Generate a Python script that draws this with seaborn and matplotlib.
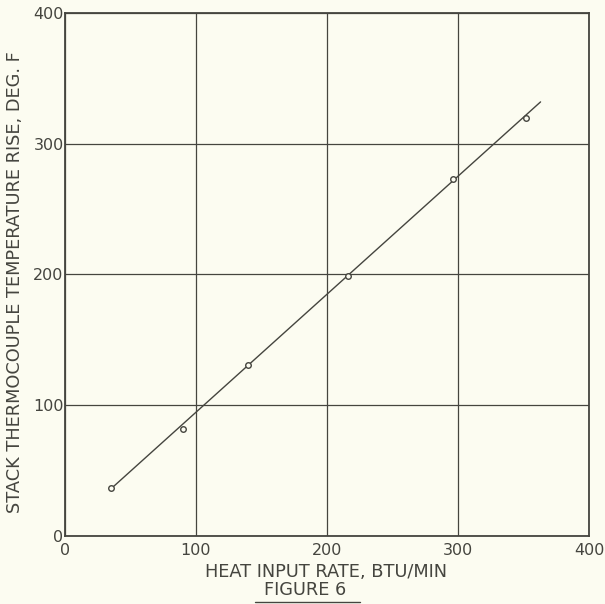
import matplotlib
matplotlib.use("Agg")
import matplotlib.pyplot as plt
import seaborn as sns
import pandas as pd
from matplotlib.lines import Line2D

# Data
heat_input = [35, 90, 140, 216, 296, 352]
temp_rise = [37, 82, 131, 199, 273, 320]
fit_x = [35, 363]
fit_y = [36, 332]
ticks = [0, 100, 200, 300, 400]

bg = "#fcfcf1"
ink = "#45453f"

sns.set_theme(style="white")
plt.rcParams["font.family"] = ["DejaVu Sans"]

fig = plt.figure(figsize=(6.05, 6.04), dpi=100, facecolor=bg)
ax = fig.add_axes([0.1074, 0.1126, 0.8662, 0.8659])
ax.set_facecolor(bg)

pts = pd.DataFrame({"x": heat_input, "y": temp_rise})
fit = pd.DataFrame({"x": fit_x, "y": fit_y})

sns.lineplot(data=fit, x="x", y="y", ax=ax, color=ink, linewidth=1.0, zorder=3)
sns.scatterplot(data=pts, x="x", y="y", ax=ax, marker="o", s=16,
                facecolor=bg, edgecolor=ink, linewidth=1.0, zorder=4)

ax.set_xlim(0, 400)
ax.set_ylim(0, 400)
ax.set_xticks(ticks)
ax.set_yticks(ticks)
ax.set_xticklabels([str(t) for t in ticks])
ax.set_yticklabels([str(t) for t in ticks])
ax.grid(True, color=ink, linewidth=0.9)
ax.set_axisbelow(True)
for s in ax.spines.values():
    s.set_color(ink)
    s.set_linewidth(1.3)
ax.tick_params(axis="both", length=0, labelsize=11.5, colors=ink)
ax.tick_params(axis="x", pad=5)
ax.tick_params(axis="y", pad=1)
ax.set_xlabel("")
ax.set_ylabel("")

fig.text(0.539, 0.053, "HEAT INPUT RATE, BTU/MIN", ha="center", va="center",
         fontsize=12.8, color=ink)
fig.text(0.025, 0.533, "STACK THERMOCOUPLE TEMPERATURE RISE, DEG. F",
         ha="center", va="center", rotation=90, fontsize=12.8, color=ink)
fig.text(0.504, 0.024, "FIGURE 6", ha="center", va="center", fontsize=12.8, color=ink)
fig.add_artist(Line2D([0.421, 0.595], [0.003, 0.003], transform=fig.transFigure,
                      color=ink, linewidth=1.0))

fig.savefig("out.png", dpi=100, facecolor=bg)
